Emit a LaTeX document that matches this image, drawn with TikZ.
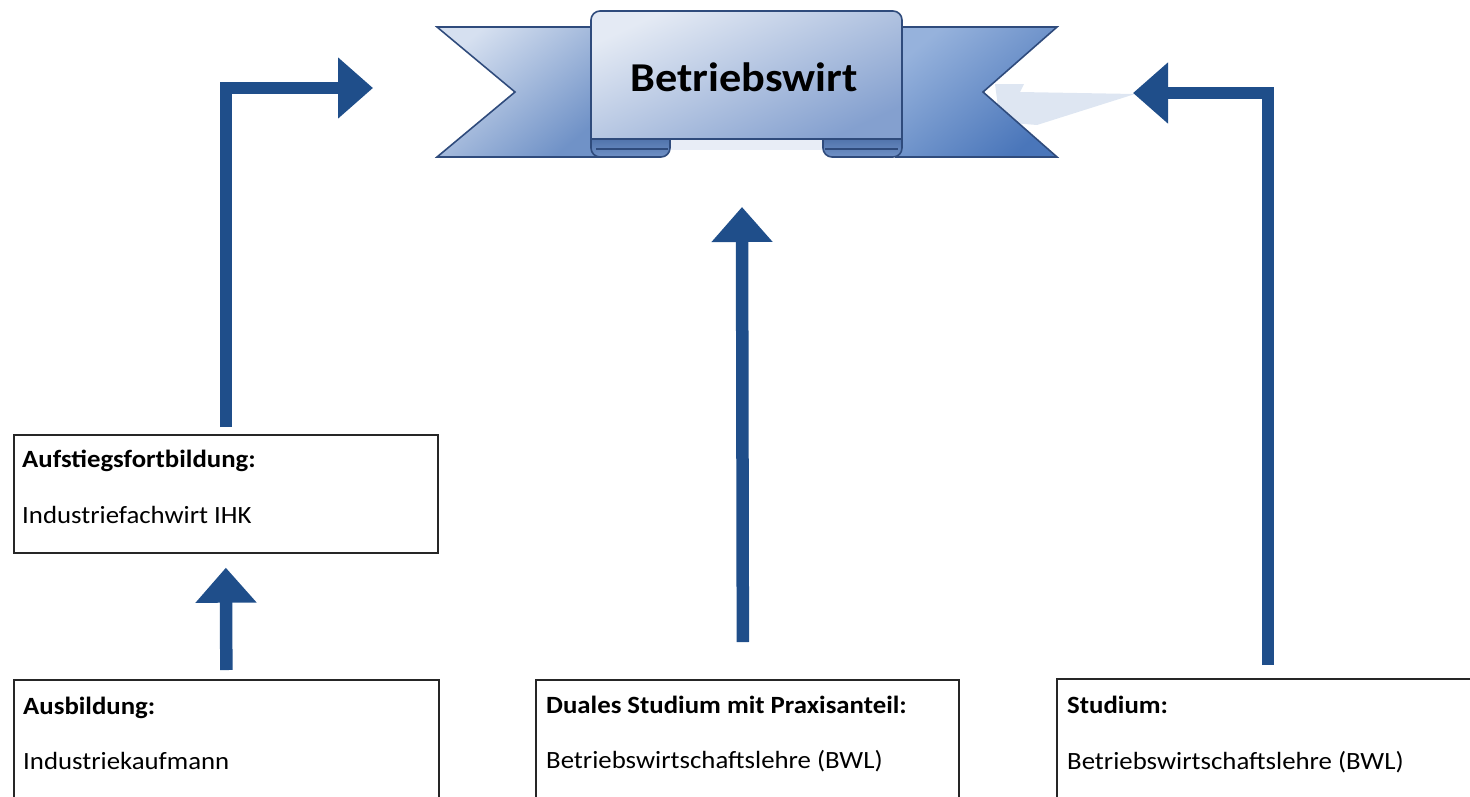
\documentclass[tikz,border=0pt]{standalone}
\usepackage{fontspec}
\setmainfont{Carlito}[FakeStretch=1.08]
\usetikzlibrary{arrows.meta}
\definecolor{arrowblue}{RGB}{31,78,138}
\definecolor{ribbonline}{RGB}{47,75,124}
\definecolor{shadowblue}{RGB}{222,230,242}
\begin{document}
\begin{tikzpicture}[x=1pt,y=-1pt,line join=miter,
  arr/.style={draw=arrowblue,line width=12.5pt,-{Triangle[length=35pt,width=59pt]}},
  box/.style={draw=black!85,line width=1.7pt,fill=white,anchor=north west,inner sep=0pt,minimum width=424pt,minimum height=118pt},
  ttl/.style={font=\fontsize{24.8}{24.8}\selectfont\bfseries,anchor=base west,inner sep=0pt},
  txt/.style={font=\fontsize{24.8}{24.8}\selectfont,anchor=base west,inner sep=0pt},
  rib/.style={draw=ribbonline,line width=1.6pt}]
\useasboundingbox (0,0) rectangle (1470,796);
\clip (0,0) rectangle (1470,796);
% shadow of the ribbon
\fill[shadowblue] (995,84) -- (1024,84) -- (1020,92) -- (1135,94) -- (1037,125) -- (1000,122) -- cycle;
\fill[shadowblue!70] (668,140) -- (826,140) -- (826,150) -- (668,150) -- cycle;
% tails
\shade[top color={rgb,255:red,214;green,224;blue,240},bottom color={rgb,255:red,112;green,146;blue,199},shading angle=40]
  (437,27) -- (600,27) -- (600,157) -- (437,157) -- (515,92) -- cycle;
\draw[rib] (600,27) -- (437,27) -- (515,92) -- (437,157) -- (600,157);
\shade[top color={rgb,255:red,150;green,178;blue,220},bottom color={rgb,255:red,74;green,118;blue,186},shading angle=40]
  (1057,27) -- (895,27) -- (895,157) -- (1057,157) -- (983,92) -- cycle;
\draw[rib] (895,27) -- (1057,27) -- (983,92) -- (1057,157) -- (895,157);
% curls
\draw[rib,rounded corners=9pt,top color={rgb,255:red,62;green,98;blue,156},bottom color={rgb,255:red,112;green,145;blue,198}]
  (591,128) -- (591,157) -- (670,157) -- (670,128);
\draw[rib,rounded corners=9pt,top color={rgb,255:red,62;green,98;blue,156},bottom color={rgb,255:red,112;green,145;blue,198}]
  (823,128) -- (823,157) -- (902,157) -- (902,128);
\draw[ribbonline,line width=1.2pt] (596,149) -- (668,149) (825,149) -- (898,149);
% central panel
\draw[rib,top color={rgb,255:red,228;green,234;blue,244},bottom color={rgb,255:red,132;green,160;blue,207},shading angle=25]
  (591,139) [rounded corners=9pt] -- (591,11) -- (902,11) [sharp corners] -- (902,139) -- cycle;
\node[font=\fontsize{41}{41}\selectfont\bfseries,anchor=base,inner sep=0pt] (title) at (744,91) {Betriebswirt};
% boxes
\node[box] (auf) at (13,434) {};
\node[ttl] (aufT) at (22,467) {Aufstiegsfortbildung:};
\node[txt] (aufS) at (22,523) {Industriefachwirt IHK};
\node[box,minimum width=425pt,minimum height=130pt] (ausb) at (13,679) {};
\node[ttl] (ausbT) at (23,714) {Ausbildung:};
\node[txt] (ausbS) at (23,769) {Industriekaufmann};
\node[box,minimum width=423pt,minimum height=130pt] (dual) at (535,679) {};
\node[ttl] (dualT) at (546,713) {Duales Studium mit Praxisanteil:};
\node[txt] (dualS) at (546,768) {Betriebswirtschaftslehre (BWL)};
\node[box,minimum width=422pt,minimum height=130pt] (stud) at (1056,678) {};
\node[ttl] (studT) at (1067,713) {Studium:};
\node[txt] (studS) at (1067,769) {Betriebswirtschaftslehre (BWL)};
% arrow tips
\coordinate (tipL) at (373,88);
\coordinate (tipM) at (742,207);
\coordinate (tipR) at (1133,93);
% arrows
\draw[arr] ([yshift=7pt]auf.north) |- (tipL);
\draw[arr] ([yshift=9pt]ausb.north) -- ([yshift=-14pt]auf.south);
\draw[arr] ([xshift=-4.5pt,yshift=37pt]dual.north) -- (tipM);
\draw[arr] ([yshift=13pt]stud.north) |- (tipR);
\end{tikzpicture}
\end{document}
